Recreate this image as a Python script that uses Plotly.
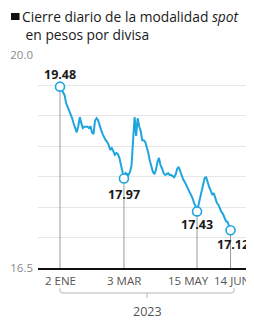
import plotly.graph_objects as go

# Daily close (spot), trading-day index
values = [
    19.48, 19.44, 19.40, 19.34, 19.21, 19.15, 19.10, 19.05, 18.96, 18.87,
    18.80, 18.73, 18.83, 18.98, 18.88, 18.80, 18.82, 18.82, 18.82, 18.80,
    18.83, 18.73, 18.70, 18.92, 18.96, 18.93, 18.83, 18.77, 18.70, 18.64,
    18.60, 18.57, 18.52, 18.44, 18.47, 18.42, 18.36, 18.39, 18.37, 18.31,
    18.18, 18.08, 17.97, 18.06, 18.04, 18.03, 18.08, 18.19, 18.60, 18.98,
    18.67, 18.96, 18.83, 18.75, 18.60, 18.60, 18.57, 18.49, 18.39, 18.26,
    18.14, 18.08, 18.04, 18.11, 18.24, 18.31, 18.19, 18.14, 18.06, 18.03,
    18.04, 18.06, 18.03, 18.03, 18.01, 17.99, 18.04, 18.13, 18.16, 18.08,
    17.99, 17.95, 17.91, 17.86, 17.81, 17.77, 17.72, 17.65, 17.57, 17.52,
    17.43, 17.54, 17.63, 17.77, 17.88, 17.98, 17.99, 17.90, 17.83, 17.77,
    17.70, 17.73, 17.65, 17.57, 17.54, 17.47, 17.42, 17.39, 17.34, 17.27,
    17.26, 17.19, 17.12,
]
x_index = list(range(len(values)))

tick_index = [0, 42, 90, 112]
tick_labels = ["2 ENE", "3 MAR", "15 MAY", "14 JUN"]
tick_label_xshift = [0, 0, -9, 1]
highlight_labels = ["19.48", "17.97", "17.43", "17.12"]
label_shift = [12, -16, -13, -14]
label_xshift = [0, 0, 0, 2]

y_min, y_max = 16.5, 20.0
grid_vals = [16.5, 17.0, 17.5, 18.0, 18.5, 19.0, 19.5, 20.0]
grid_text = ["16.5", "", "", "", "", "", "", "20.0"]
year_label = "2023"

BLUE = "#1fa5de"
font_family = "Open Sans, Lato, sans-serif"

fig = go.Figure()

# vertical drop lines from highlighted points to the axis
vx, vy = [], []
for i in tick_index:
    vx += [i, i, None]
    vy += [y_min, values[i], None]
fig.add_trace(go.Scatter(x=vx, y=vy, mode="lines",
                         line=dict(color="#9a9a9a", width=1),
                         hoverinfo="skip", showlegend=False, cliponaxis=False))

fig.add_trace(go.Scatter(x=x_index, y=values, mode="lines",
                         line=dict(color=BLUE, width=2),
                         showlegend=False))

fig.add_trace(go.Scatter(x=tick_index, y=[values[i] for i in tick_index],
                         mode="markers",
                         marker=dict(symbol="circle", size=9, color="white",
                                     line=dict(color=BLUE, width=1.6)),
                         showlegend=False, cliponaxis=False))

for i, t, s, xs in zip(tick_index, highlight_labels, label_shift, label_xshift):
    fig.add_annotation(x=i, y=values[i], xref="x", yref="y", text=t,
                       showarrow=False, yshift=s, xshift=xs,
                       font=dict(family=font_family, size=12.5, color="#1a1a1a",
                                 weight="bold"))

# x tick labels (placed individually to avoid overlap as in the original)
for i, t, xs in zip(tick_index, tick_labels, tick_label_xshift):
    fig.add_annotation(x=i, y=0, xref="x", yref="paper", text=t,
                       showarrow=False, yanchor="top", yshift=-3, xshift=xs,
                       font=dict(family=font_family, size=11.5, color="#555"))

# bracket under the x labels
x_left, x_right = tick_index[0], 114.3
x_mid = (x_left + x_right) / 2
yb, ye, ym = -0.1174, -0.094, -0.1408
fig.add_shape(type="path", xref="x", yref="paper",
              path=(f"M {x_left},{ye} L {x_left},{yb+0.01} Q {x_left},{yb} {x_left+2},{yb} "
                    f"L {x_right-2},{yb} Q {x_right},{yb} {x_right},{yb+0.01} L {x_right},{ye}"),
              line=dict(color="#b5b5b5", width=1))
fig.add_shape(type="line", xref="x", yref="paper", x0=x_mid, x1=x_mid, y0=yb, y1=ym,
              line=dict(color="#b5b5b5", width=1))
fig.add_annotation(x=x_mid, y=-0.202, xref="x", yref="paper", text=year_label,
                   showarrow=False, yanchor="middle",
                   font=dict(family=font_family, size=12.5, color="#555"))

# title
fig.add_shape(type="rect", xref="paper", yref="paper",
              x0=-0.1262, x1=-0.0864, y0=1.1643, y1=1.1972,
              fillcolor="#111", line=dict(width=0))
fig.add_annotation(x=-0.0841, y=1.139, xref="paper", yref="paper",
                   text="Cierre diario de la modalidad <i>spot</i><br>&nbsp;en pesos por divisa",
                   showarrow=False, xanchor="left", yanchor="middle", align="left",
                   font=dict(family=font_family, size=13.8, color="#1a1a1a"))

# page body has an 8px default margin, so the figure is sized to compensate
fig.update_layout(
    width=246, height=313,
    margin=dict(l=30, r=2, t=47, b=53),
    paper_bgcolor="white", plot_bgcolor="white",
    font=dict(family=font_family),
    xaxis=dict(range=[-14.45, 126.1], showticklabels=False,
               showgrid=False, zeroline=False,
               showline=True, linecolor="#111", linewidth=2,
               ticks="", automargin=False),
    yaxis=dict(range=[y_min, y_max], tickmode="array", tickvals=grid_vals,
               ticktext=grid_text, showgrid=True, gridcolor="#e6e6e6",
               gridwidth=1, zeroline=False, showline=False, ticks="",
               ticklabelstandoff=4, automargin=False,
               tickfont=dict(size=11.5, color="#8a8a8a")),
)

fig.write_html("out.html")
